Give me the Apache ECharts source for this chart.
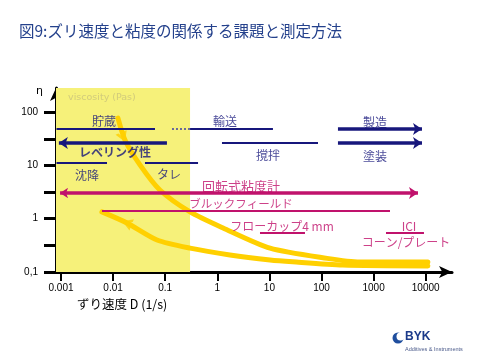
<!DOCTYPE html>
<html><head><meta charset="utf-8">
<script src="https://cdn.jsdelivr.net/npm/echarts@6/dist/echarts.min.js"></script>
<style>html,body{margin:0;padding:0;background:#fff}#c{width:481px;height:360px}</style>
</head><body><div id="c"></div>
<script>
// ---- axis ticks ----
const xTickValues = [0.001, 0.01, 0.1, 1, 10, 100, 1000, 10000];
const xTickLabels = ['0.001', '0.01', '0.1', '1', '10', '100', '1000', '10000'];
const yTickValues = [0.1, 1, 10, 100];
const yTickLabels = ['0,1', '1', '10', '100'];
const yTickMarks = [0.1, 0.316, 1, 3.16, 10, 31.6, 100];

// ---- shear-rate bands (D from / to, viscosity level) ----
const bandNames = ['貯蔵', '輸送', '沈降', 'タレ', '撹拌', 'レベリング性', '製造', '塗装',
                   '回転式粘度計', 'ブルックフィールド', 'フローカップ', 'ICI'];
const bandFrom = [0.00082, 0.30, 0.00082, 0.0409, 1.23, 0.108, 207, 207, 0.00096, 0.00612, 6.6, 1730];
const bandTo   = [0.0637, 11.7, 0.00764, 0.427, 85.7, 0.00091, 8490, 8490, 7110, 2065, 48.2, 9270];
const bandEta  = [48.2, 48.2, 11.1, 11.1, 26.3, 26.3, 48.2, 26.3, 3.04, 1.39, 0.54, 0.54];
const transportDottedFrom = 0.135;

// ---- low-shear region ----
const lowShearTo = 0.3;

// ---- viscosity curves ----
const upperD   = [0.0124, 0.0169, 0.0328, 0.079, 0.30, 1.29, 10.3, 128, 548, 11000];
const upperEta = [77, 30, 10.2, 3.45, 1.34, 0.67, 0.28, 0.18, 0.154, 0.154];
const lowerD   = [0.0061, 0.0185, 0.0697, 0.30, 1.75, 10.3, 28, 255, 11000];
const lowerEta = [1.34, 0.83, 0.398, 0.28, 0.209, 0.168, 0.155, 0.135, 0.130];
const arrowD   = [0.0155, 0.0185];
const arrowEta = [34, 0.83];

// ---- text labels ----
const labelTexts = ['貯蔵', '輸送', 'レベリング性', '沈降', 'タレ', '撹拌', '製造', '塗装',
                    '回転式粘度計', 'ブルックフィールド', 'フローカップ4 mm', 'ICI', 'コーン/プレート', 'viscosity (Pas)'];
const labelD   = [0.00668, 1.41, 0.0109, 0.00316, 0.118, 9.4, 1064, 1064, 2.85, 2.85, 17.5, 4780, 4190, 0.0061];
const labelEta = [68, 68, 17.8, 6.6, 6.9, 15.7, 65, 15, 4.1, 1.89, 0.73, 0.73, 0.366, 184];

// ================= build =================
const L = Math.log10;
const X_MIN = -3.096, X_MAX = 4.505, Y_MIN = -1, Y_MAX = 2.452;
const NAVY = '#17177c', MAG = '#c0126c', CURVE = '#ffd000';
const JP = '"Noto Sans CJK JP", sans-serif';

function band(name) {
  const i = bandNames.indexOf(name);
  return [[L(bandFrom[i]), L(bandEta[i])], [L(bandTo[i]), L(bandEta[i])]];
}
function lookup(vals, labs, v) {
  const i = vals.findIndex(t => Math.abs(L(t) - v) < 1e-6);
  return i >= 0 ? labs[i] : '';
}

const navyThin = ['貯蔵', '輸送', '沈降', 'タレ', '撹拌'].map(n => ({ coords: band(n) }));
const tIdx = bandNames.indexOf('輸送');
const dotted = [{ coords: [[L(transportDottedFrom), L(bandEta[tIdx])], [L(bandFrom[tIdx]), L(bandEta[tIdx])]] }];

const labelStyle = (t) => {
  const magenta = ['回転式粘度計', 'ブルックフィールド', 'フローカップ4 mm', 'ICI', 'コーン/プレート'].includes(t);
  const s = { show: true, position: 'inside', formatter: t, fontFamily: JP, fontSize: 12,
              color: magenta ? MAG : NAVY };
  if (t === 'レベリング性') { s.fontWeight = 'bold'; }
  if (t === '回転式粘度計') { s.fontSize = 13; }
  if (t === 'ブルックフィールド') { s.fontSize = 11.5; }
  if (t === 'viscosity (Pas)') { s.fontFamily = 'DejaVu Sans'; s.fontSize = 9.5; s.color = '#c8c27c'; }
  return s;
};

const option = {
  animation: false,
  backgroundColor: '#fff',
  title: {
    text: '図9:ズリ速度と粘度の関係する課題と測定方法',
    left: 14, top: 18,
    textStyle: { fontFamily: JP, fontSize: 15.5, fontWeight: 'normal', color: '#24418c' }
  },
  grid: { left: 56, right: 29, top: 88, bottom: 88, containLabel: false },
  xAxis: {
    type: 'value', min: X_MIN, max: X_MAX,
    splitLine: { show: false },
    axisLine: { show: true, onZero: false, lineStyle: { color: '#000', width: 3 }, symbol: ['none', 'arrow'], symbolSize: [9, 13] },
    axisTick: { show: true, customValues: xTickValues.map(L), length: 9, lineStyle: { color: '#000', width: 2 } },
    axisLabel: { customValues: xTickValues.map(L), formatter: v => lookup(xTickValues, xTickLabels, v),
                 fontFamily: 'Liberation Sans', fontSize: 10, color: '#000', margin: 11 }
  },
  yAxis: {
    type: 'value', min: Y_MIN, max: Y_MAX,
    splitLine: { show: false },
    axisLine: { show: true, onZero: false, lineStyle: { color: '#000', width: 3 }, symbol: ['none', 'arrow'], symbolSize: [9, 13] },
    axisTick: { show: true, customValues: yTickMarks.map(L), length: 12, lineStyle: { color: '#000', width: 3 } },
    axisLabel: { customValues: yTickValues.map(L), formatter: v => lookup(yTickValues, yTickLabels, v),
                 fontFamily: 'Liberation Sans', fontSize: 10, color: '#000', margin: 18 }
  },
  graphic: [
    { type: 'text', left: 36, top: 86, style: { text: 'η', font: '11px "DejaVu Sans"', fill: '#000' } },
    { type: 'text', left: 77, top: 298, style: { text: 'ずり速度 D (1/s)', font: '12.5px ' + JP, fill: '#000' } },
    { type: 'circle', shape: { cx: 398, cy: 338, r: 5.5 }, style: { fill: '#1f4e9e' } },
    { type: 'circle', shape: { cx: 400.5, cy: 336.5, r: 4 }, style: { fill: '#fff' } },
    { type: 'text', left: 405, top: 331, style: { text: 'BYK', font: 'bold 12px "Liberation Sans"', fill: '#1b3a8a' } },
    { type: 'text', left: 405, top: 346, style: { text: 'Additives & Instruments', font: '5.5px "Liberation Sans"', fill: '#4a5a8a' } }
  ],
  series: [
    {
      type: 'line', silent: true, data: [], z: 1,
      markArea: {
        silent: true,
        itemStyle: { color: '#f6f17a' },
        data: [[{ coord: [X_MIN, Y_MIN] }, { coord: [L(lowShearTo), Y_MAX] }]]
      }
    },
    {
      type: 'line', smooth: 0.25, showSymbol: false, z: 2,
      lineStyle: { color: CURVE, width: 5, cap: 'round' },
      data: upperD.map((d, i) => [L(d), L(upperEta[i])])
    },
    {
      type: 'line', smooth: 0.25, showSymbol: false, z: 2,
      lineStyle: { color: CURVE, width: 5, cap: 'round' },
      data: lowerD.map((d, i) => [L(d), L(lowerEta[i])])
    },
    {
      type: 'scatter', z: 2, silent: true,
      symbol: 'path://M0,0L10,12L20,0L15,0L10,6L5,0Z',
      itemStyle: { color: CURVE },
      data: [
        { value: [L(arrowD[0]), L(arrowEta[0])], symbolSize: [12, 10], symbolRotate: 22 },
        { value: [L(arrowD[1]), L(arrowEta[1])], symbolSize: [12, 10], symbolRotate: -112 }
      ]
    },
    {
      type: 'lines', coordinateSystem: 'cartesian2d', z: 3, symbol: ['none', 'none'],
      lineStyle: { color: NAVY, width: 2, opacity: 1 },
      data: navyThin
    },
    {
      type: 'lines', coordinateSystem: 'cartesian2d', z: 3, symbol: ['none', 'none'],
      lineStyle: { color: '#6a6a9a', width: 2, type: [2, 2], opacity: 1 },
      data: dotted
    },
    {
      type: 'lines', coordinateSystem: 'cartesian2d', z: 3, symbol: ['none', 'arrow'], symbolSize: [7, 9],
      lineStyle: { color: NAVY, width: 3.5, opacity: 1 },
      data: ['レベリング性', '製造', '塗装'].map(n => ({ coords: band(n) }))
    },
    {
      type: 'lines', coordinateSystem: 'cartesian2d', z: 3, symbol: ['arrow', 'arrow'], symbolSize: [8, 9],
      lineStyle: { color: MAG, width: 3.5, opacity: 1 },
      data: [{ coords: band('回転式粘度計') }]
    },
    {
      type: 'lines', coordinateSystem: 'cartesian2d', z: 3, symbol: ['none', 'none'],
      lineStyle: { color: MAG, width: 2, opacity: 1 },
      data: ['ブルックフィールド', 'フローカップ', 'ICI'].map(n => ({ coords: band(n) }))
    },
    {
      type: 'scatter', z: 4, silent: true, symbolSize: 1,
      itemStyle: { color: 'rgba(0,0,0,0)' },
      data: labelTexts.map((t, i) => ({ value: [L(labelD[i]), L(labelEta[i])], label: labelStyle(t) }))
    }
  ]
};
const chart = echarts.init(document.getElementById('c'), null, { renderer: 'canvas' });
chart.setOption(option);
</script>
</body></html>
